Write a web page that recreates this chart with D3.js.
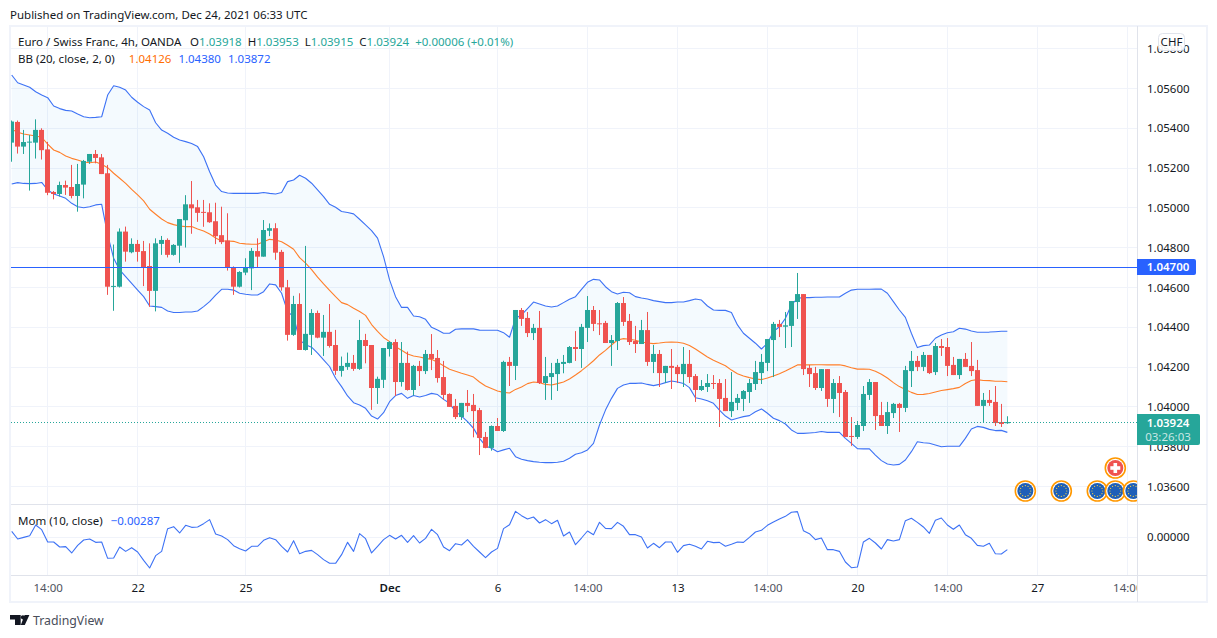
<!DOCTYPE html>
<html>
<head>
<meta charset="utf-8">
<title>EURCHF 4h</title>
<script src="https://d3js.org/d3.v7.min.js"></script>
<style>
  html, body { margin: 0; background: #fff; }
  svg { display: block; }
  text { font-family: "Noto Sans", sans-serif; font-size: 11.5px; fill: #131722; }
</style>
</head>
<body>
<div id="chart"></div>
<script>
// OHLC, one entry per 4h bar
var opens = [
1.05328,1.05432,1.05308,1.05330,1.05328,1.05392,1.05294,1.05080,1.05070,1.05115,
1.05105,1.05060,1.05117,1.05232,1.05271,1.05254,1.05174,1.04604,1.04604,1.04881,
1.04777,1.04819,1.04783,1.04708,1.04583,1.04819,1.04839,1.04764,1.04810,1.04938,
1.05018,1.05003,1.04980,1.04978,1.04933,1.04863,1.04836,1.04701,1.04604,1.04675,
1.04696,1.04783,1.04755,1.04885,1.04898,1.04779,1.04601,1.04362,1.04517,1.04286,
1.04362,1.04472,1.04348,1.04377,1.04311,1.04181,1.04201,1.04221,1.04191,1.04336,
1.04311,1.04095,1.04136,1.04291,1.04326,1.04125,1.04221,1.04085,1.04206,1.04180,
1.04266,1.04246,1.04150,1.04065,1.04005,1.03949,1.04020,1.04010,1.03984,1.03849,
1.03794,1.03904,1.03879,1.04226,1.04206,1.04487,1.04447,1.04371,1.04397,1.04120,
1.04150,1.04165,1.04216,1.04221,1.04301,1.04291,1.04397,1.04487,1.04420,1.04422,
1.04321,1.04331,1.04522,1.04432,1.04331,1.04316,1.04386,1.04226,1.04266,1.04170,
1.04206,1.04201,1.04165,1.04216,1.04155,1.04085,1.04100,1.04120,1.04120,1.04045,
1.03979,1.04020,1.04040,1.04075,1.04115,1.04170,1.04221,1.04336,1.04417,1.04403,
1.04407,1.04527,1.04567,1.04196,1.04170,1.04095,1.04190,1.04040,1.04120,1.04075,
1.03854,1.03849,1.03904,1.04060,1.04125,1.03959,1.03904,1.03969,1.04015,1.03995,
1.04180,1.04231,1.04201,1.04261,1.04175,1.04306,1.04301,1.04211,1.04160,1.04241,
1.04206,1.04185,1.04005,1.04035,1.04025,1.03924,1.03918];
var highs = [
1.05439,1.05439,1.05392,1.05366,1.05445,1.05400,1.05332,1.05085,1.05132,1.05137,
1.05216,1.05221,1.05241,1.05271,1.05291,1.05271,1.05216,1.04816,1.04897,1.04906,
1.04847,1.04839,1.04834,1.04822,1.04847,1.04859,1.04847,1.04818,1.04944,1.05064,
1.05135,1.05040,1.05040,1.05023,1.05026,1.05006,1.04973,1.04706,1.04682,1.04747,
1.04798,1.04847,1.04939,1.04922,1.04923,1.04789,1.04638,1.04558,1.04571,1.04809,
1.04491,1.04484,1.04462,1.04517,1.04387,1.04253,1.04273,1.04261,1.04437,1.04367,
1.04311,1.04152,1.04296,1.04330,1.04340,1.04326,1.04278,1.04211,1.04231,1.04286,
1.04366,1.04286,1.04231,1.04068,1.04040,1.04020,1.04085,1.04065,1.03995,1.03874,
1.03907,1.03944,1.04232,1.04251,1.04487,1.04497,1.04477,1.04417,1.04482,1.04251,
1.04221,1.04241,1.04261,1.04306,1.04381,1.04417,1.04557,1.04507,1.04487,1.04432,
1.04361,1.04527,1.04552,1.04467,1.04407,1.04437,1.04477,1.04311,1.04286,1.04206,
1.04291,1.04211,1.04301,1.04286,1.04165,1.04135,1.04165,1.04160,1.04140,1.04140,
1.04175,1.04065,1.04085,1.04140,1.04231,1.04266,1.04341,1.04427,1.04437,1.04477,
1.04532,1.04673,1.04567,1.04211,1.04201,1.04190,1.04190,1.04140,1.04155,1.04085,
1.03949,1.03929,1.04105,1.04140,1.04125,1.04025,1.04025,1.04020,1.04020,1.04206,
1.04281,1.04256,1.04276,1.04261,1.04321,1.04341,1.04346,1.04251,1.04241,1.04271,
1.04326,1.04236,1.04070,1.04085,1.04105,1.04015,1.03953];
var lows = [
1.05232,1.05273,1.05271,1.05087,1.05248,1.05243,1.05064,1.05043,1.05057,1.05065,
1.05048,1.04981,1.05048,1.05221,1.05224,1.05170,1.04563,1.04483,1.04600,1.04730,
1.04772,1.04730,1.04607,1.04503,1.04480,1.04764,1.04751,1.04760,1.04724,1.04801,
1.04870,1.04930,1.04905,1.04925,1.04818,1.04818,1.04685,1.04563,1.04600,1.04662,
1.04587,1.04702,1.04755,1.04858,1.04739,1.04584,1.04333,1.04357,1.04286,1.04283,
1.04261,1.04345,1.04256,1.04298,1.04161,1.04152,1.04186,1.04181,1.04186,1.04219,
1.03985,1.04015,1.04095,1.04253,1.04055,1.04102,1.04082,1.04057,1.04105,1.04165,
1.04185,1.04122,1.04035,1.04000,1.03939,1.03934,1.03974,1.03847,1.03758,1.03792,
1.03780,1.03879,1.03874,1.04105,1.04135,1.04407,1.04351,1.04336,1.04115,1.04035,
1.04035,1.04080,1.04169,1.04219,1.04231,1.04196,1.04326,1.04381,1.04361,1.04321,
1.04206,1.04286,1.04407,1.04311,1.04271,1.04316,1.04206,1.04170,1.04100,1.04120,
1.04090,1.04120,1.04100,1.04120,1.04025,1.04080,1.04075,1.04090,1.03899,1.03979,
1.03949,1.03984,1.03979,1.04020,1.04085,1.04115,1.04180,1.04150,1.04351,1.04296,
1.04301,1.04442,1.04160,1.04100,1.04085,1.04080,1.04000,1.03969,1.03949,1.03849,
1.03804,1.03839,1.03879,1.04035,1.03884,1.03904,1.03864,1.03944,1.03874,1.03974,
1.04100,1.04180,1.04180,1.04165,1.04160,1.04256,1.04155,1.04160,1.04140,1.04201,
1.04155,1.04005,1.03921,1.04005,1.03904,1.03899,1.03915];
var closes = [
1.05434,1.05308,1.05331,1.05333,1.05392,1.05290,1.05076,1.05070,1.05115,1.05102,
1.05060,1.05120,1.05236,1.05271,1.05251,1.05170,1.04604,1.04608,1.04881,1.04780,
1.04819,1.04779,1.04701,1.04583,1.04822,1.04839,1.04764,1.04814,1.04944,1.05018,
1.04998,1.04975,1.04977,1.04928,1.04858,1.04828,1.04701,1.04604,1.04678,1.04702,
1.04784,1.04755,1.04889,1.04898,1.04775,1.04601,1.04362,1.04517,1.04286,1.04367,
1.04472,1.04348,1.04377,1.04306,1.04181,1.04206,1.04221,1.04191,1.04336,1.04306,
1.04095,1.04141,1.04296,1.04326,1.04125,1.04221,1.04085,1.04206,1.04180,1.04266,
1.04241,1.04145,1.04060,1.04000,1.03949,1.04020,1.04005,1.03979,1.03844,1.03794,
1.03904,1.03879,1.04226,1.04206,1.04487,1.04442,1.04371,1.04397,1.04120,1.04155,
1.04170,1.04221,1.04226,1.04301,1.04291,1.04402,1.04487,1.04417,1.04417,1.04321,
1.04336,1.04522,1.04427,1.04326,1.04316,1.04386,1.04226,1.04266,1.04170,1.04206,
1.04196,1.04165,1.04216,1.04150,1.04085,1.04105,1.04120,1.04117,1.04040,1.03979,
1.04025,1.04045,1.04080,1.04120,1.04175,1.04226,1.04341,1.04417,1.04402,1.04410,
1.04532,1.04567,1.04190,1.04165,1.04095,1.04190,1.04040,1.04120,1.04070,1.03849,
1.03850,1.03909,1.04065,1.04125,1.03954,1.03904,1.03974,1.04015,1.03995,1.04185,
1.04231,1.04201,1.04261,1.04170,1.04306,1.04296,1.04206,1.04160,1.04241,1.04201,
1.04180,1.04005,1.04035,1.04020,1.03919,1.03914,1.03924];

// Bollinger bands (20, close, 2, 0)
var bbUpper = [
1.05668,1.05629,1.05618,1.05606,1.05584,1.05567,1.05554,1.05512,1.05499,1.05490,
1.05487,1.05472,1.05458,1.05453,1.05455,1.05458,1.05567,1.05614,1.05606,1.05592,
1.05556,1.05531,1.05509,1.05492,1.05428,1.05391,1.05375,1.05355,1.05341,1.05333,
1.05324,1.05308,1.05257,1.05182,1.05115,1.05082,1.05075,1.05073,1.05073,1.05073,
1.05073,1.05073,1.05077,1.05073,1.05070,1.05077,1.05132,1.05140,1.05164,1.05149,
1.05124,1.05091,1.05057,1.05018,1.05003,1.04982,1.04977,1.04970,1.04943,1.04915,
1.04886,1.04848,1.04755,1.04638,1.04554,1.04500,1.04500,1.04457,1.04453,1.04440,
1.04400,1.04386,1.04370,1.04370,1.04390,1.04392,1.04392,1.04392,1.04386,1.04385,
1.04385,1.04385,1.04373,1.04350,1.04445,1.04462,1.04494,1.04527,1.04517,1.04507,
1.04502,1.04507,1.04524,1.04541,1.04554,1.04591,1.04626,1.04641,1.04638,1.04604,
1.04579,1.04567,1.04576,1.04574,1.04554,1.04547,1.04542,1.04534,1.04529,1.04524,
1.04524,1.04527,1.04527,1.04534,1.04542,1.04537,1.04507,1.04487,1.04485,1.04485,
1.04474,1.04412,1.04370,1.04345,1.04320,1.04291,1.04320,1.04378,1.04403,1.04445,
1.04512,1.04546,1.04549,1.04549,1.04551,1.04551,1.04552,1.04552,1.04552,1.04571,
1.04587,1.04591,1.04591,1.04591,1.04592,1.04592,1.04571,1.04529,1.04487,1.04450,
1.04370,1.04298,1.04308,1.04311,1.04345,1.04361,1.04373,1.04378,1.04395,1.04391,
1.04381,1.04375,1.04375,1.04376,1.04378,1.04380,1.04380];
var bbMiddle = [
1.05395,1.05380,1.05371,1.05366,1.05361,1.05355,1.05321,1.05291,1.05279,1.05261,
1.05249,1.05241,1.05231,1.05227,1.05231,1.05219,1.05202,1.05174,1.05149,1.05123,
1.05093,1.05065,1.05035,1.04993,1.04968,1.04944,1.04926,1.04916,1.04909,1.04906,
1.04906,1.04894,1.04884,1.04869,1.04849,1.04834,1.04834,1.04832,1.04822,1.04819,
1.04817,1.04817,1.04830,1.04842,1.04839,1.04830,1.04812,1.04792,1.04750,1.04722,
1.04690,1.04652,1.04618,1.04586,1.04554,1.04524,1.04514,1.04496,1.04479,1.04460,
1.04414,1.04380,1.04349,1.04328,1.04302,1.04285,1.04266,1.04256,1.04251,1.04244,
1.04239,1.04224,1.04207,1.04189,1.04179,1.04169,1.04160,1.04150,1.04125,1.04105,
1.04093,1.04080,1.04073,1.04070,1.04088,1.04100,1.04117,1.04125,1.04122,1.04113,
1.04110,1.04117,1.04125,1.04140,1.04160,1.04182,1.04206,1.04232,1.04261,1.04284,
1.04311,1.04336,1.04343,1.04340,1.04335,1.04326,1.04321,1.04318,1.04321,1.04325,
1.04326,1.04325,1.04320,1.04309,1.04291,1.04271,1.04251,1.04234,1.04221,1.04207,
1.04185,1.04167,1.04155,1.04147,1.04140,1.04137,1.04145,1.04155,1.04167,1.04180,
1.04195,1.04211,1.04211,1.04211,1.04212,1.04212,1.04211,1.04211,1.04212,1.04206,
1.04197,1.04190,1.04190,1.04189,1.04179,1.04164,1.04145,1.04122,1.04102,1.04088,
1.04073,1.04062,1.04063,1.04067,1.04075,1.04082,1.04087,1.04092,1.04098,1.04118,
1.04133,1.04137,1.04133,1.04132,1.04129,1.04129,1.04126];
var bbLower = [
1.05120,1.05127,1.05123,1.05122,1.05123,1.05128,1.05090,1.05070,1.05060,1.05048,
1.05023,1.05006,1.05001,1.05006,1.05015,1.05018,1.04864,1.04747,1.04688,1.04655,
1.04621,1.04587,1.04554,1.04507,1.04504,1.04500,1.04482,1.04474,1.04474,1.04477,
1.04477,1.04482,1.04504,1.04529,1.04562,1.04591,1.04591,1.04587,1.04571,1.04566,
1.04562,1.04562,1.04579,1.04618,1.04613,1.04571,1.04479,1.04454,1.04337,1.04312,
1.04300,1.04270,1.04236,1.04203,1.04144,1.04102,1.04055,1.04021,1.04010,1.03993,
1.03954,1.03939,1.03971,1.04026,1.04057,1.04068,1.04043,1.04057,1.04050,1.04057,
1.04068,1.04062,1.04038,1.04018,1.03976,1.03954,1.03926,1.03892,1.03842,1.03804,
1.03792,1.03775,1.03784,1.03792,1.03750,1.03737,1.03730,1.03725,1.03722,1.03720,
1.03720,1.03722,1.03727,1.03742,1.03762,1.03770,1.03784,1.03817,1.03909,1.03984,
1.04043,1.04093,1.04110,1.04118,1.04118,1.04120,1.04113,1.04107,1.04113,1.04122,
1.04130,1.04125,1.04118,1.04097,1.04046,1.04040,1.04031,1.04018,1.03984,1.03954,
1.03934,1.03943,1.03951,1.03956,1.03976,1.03990,1.03968,1.03943,1.03931,1.03914,
1.03884,1.03867,1.03867,1.03869,1.03871,1.03876,1.03872,1.03872,1.03872,1.03842,
1.03817,1.03790,1.03789,1.03789,1.03758,1.03730,1.03713,1.03708,1.03711,1.03733,
1.03775,1.03825,1.03820,1.03817,1.03809,1.03800,1.03802,1.03802,1.03802,1.03842,
1.03889,1.03902,1.03897,1.03887,1.03881,1.03882,1.03872];

// Mom (10, close)
var momentum = [
0.00128,-0.00045,-0.00008,0.00030,0.00272,0.00166,-0.00113,-0.00113,-0.00226,-0.00219,
-0.00362,-0.00189,-0.00068,-0.00045,-0.00121,-0.00113,-0.00483,-0.00476,-0.00226,-0.00325,
-0.00242,-0.00340,-0.00529,-0.00702,-0.00423,-0.00325,0.00189,0.00234,0.00091,0.00264,
0.00219,0.00227,0.00302,0.00393,0.00068,0.00023,-0.00060,-0.00196,-0.00264,-0.00317,
-0.00211,-0.00211,-0.00076,-0.00015,-0.00060,-0.00211,-0.00340,-0.00083,-0.00378,-0.00325,
-0.00302,-0.00400,-0.00513,-0.00596,-0.00596,-0.00400,-0.00121,-0.00325,0.00076,-0.00038,
-0.00362,-0.00211,-0.00060,0.00038,-0.00045,0.00038,-0.00121,0.00030,-0.00136,-0.00030,
0.00174,0.00053,-0.00226,-0.00310,-0.00151,-0.00181,-0.00060,-0.00211,-0.00340,-0.00468,
-0.00340,-0.00257,0.00189,0.00279,0.00581,0.00483,0.00408,0.00453,0.00317,0.00393,
0.00302,0.00378,0.00023,0.00113,-0.00174,-0.00023,0.00136,0.00053,0.00332,0.00196,
0.00189,0.00332,0.00242,0.00053,0.00053,0.00000,-0.00249,-0.00143,-0.00242,-0.00113,
-0.00113,-0.00347,-0.00196,-0.00166,-0.00211,-0.00272,-0.00098,-0.00128,-0.00121,-0.00211,
-0.00166,-0.00113,-0.00121,-0.00008,0.00113,0.00151,0.00264,0.00340,0.00408,0.00468,
0.00559,0.00574,0.00143,0.00076,-0.00060,-0.00023,-0.00287,-0.00287,-0.00325,-0.00566,
-0.00695,-0.00680,-0.00113,-0.00030,-0.00136,-0.00272,-0.00060,-0.00091,-0.00060,0.00370,
0.00423,0.00332,0.00227,0.00083,0.00378,0.00430,0.00272,0.00174,0.00272,0.00053,
-0.00030,-0.00189,-0.00211,-0.00143,-0.00378,-0.00385,-0.00287];

// axis labels
var priceTicks = [1.036,1.038,1.040,1.042,1.044,1.046,1.048,1.050,1.052,1.054,1.056,1.058];
var momTicks = [0];
var timeBars = [6,21,39,63,81,96,111,126,141,156,171,186];
var timeLabels = ["14:00","22","25","Dec","6","14:00","13","14:00","20","14:00","27","14:00"];
var monthLabels = ["Dec"];
var hourLabels = ["14:00"];

// upcoming economic events, bar index they sit on
var euEventBars = [169,175,181,184,187];
var chEventBars = [184];

var hLineValue = 1.047;
var lastPrice = 1.03924;
var countdown = "03:26:03";

var width = 1217, height = 638;
var plotLeft = 11, plotRight = 1137, frameRight = 1207;
var paneTop = 27, paneBottom = 504, momTop = 505, momBottom = 575, frameBottom = 602;

var GREEN = "#26a69a", RED = "#ef5350", BLUE = "#2962ff", ORANGE = "#ff6d00";
var GRID = "#f0f3fa", BORDER = "#e0e3eb";

var x = d3.scaleLinear().domain([0, 187]).range([11.7, 1133.3]);
// 0.002 = 39.8px on the price pane
var y = d3.scaleLinear().domain([1.036, 1.056]).range([486.5, 88.5]);
var yMom = d3.scaleLinear().domain([-0.01, 0.01]).range([581.15, 492.85]);

// snap to the middle of a pixel so 1px lines stay sharp
function crisp(v) { return Math.floor(v) + 0.5; }

var svg = d3.select("#chart").append("svg").attr("width", width).attr("height", height);
var defs = svg.append("defs");
defs.append("clipPath").attr("id", "clipPrice").append("rect")
  .attr("x", plotLeft).attr("y", paneTop).attr("width", plotRight - plotLeft).attr("height", paneBottom - paneTop);
defs.append("clipPath").attr("id", "clipMom").append("rect")
  .attr("x", plotLeft).attr("y", momTop).attr("width", plotRight - plotLeft).attr("height", momBottom - momTop);
defs.append("clipPath").attr("id", "clipTime").append("rect")
  .attr("x", plotLeft).attr("y", momBottom).attr("width", plotRight - plotLeft).attr("height", frameBottom - momBottom);

svg.append("text").attr("x", 10).attr("y", 19)
  .text("Published on TradingView.com, Dec 24, 2021 06:33 UTC");

// frame
svg.append("rect").attr("x", 10).attr("y", 26).attr("width", frameRight - 10).attr("height", frameBottom - 26)
  .attr("fill", "#fff").attr("stroke", GRID).attr("stroke-width", 2);

// grid
var grid = svg.append("g").attr("fill", "none").attr("stroke", GRID);
grid.selectAll(".h").data(priceTicks).join("line").attr("class", "h")
  .attr("x1", plotLeft).attr("x2", plotRight)
  .attr("y1", function (d) { return crisp(y(d)); })
  .attr("y2", function (d) { return crisp(y(d)); });
grid.selectAll(".m").data(momTicks).join("line").attr("class", "m")
  .attr("x1", plotLeft).attr("x2", plotRight)
  .attr("y1", function (d) { return crisp(yMom(d)); })
  .attr("y2", function (d) { return crisp(yMom(d)); });
grid.selectAll(".v").data(timeBars).join("line").attr("class", "v")
  .attr("x1", function (d) { return crisp(x(d)); })
  .attr("x2", function (d) { return crisp(x(d)); })
  .attr("y1", paneTop).attr("y2", momBottom);

// price pane
var price = svg.append("g").attr("clip-path", "url(#clipPrice)");
var bars = d3.range(opens.length);

price.append("path").datum(bars)
  .attr("fill", "#2196f3").attr("fill-opacity", 0.05)
  .attr("d", d3.area().x(function (i) { return x(i); })
    .y0(function (i) { return y(bbLower[i]); })
    .y1(function (i) { return y(bbUpper[i]); }));

function bandLine(vals, color) {
  price.append("path").datum(bars)
    .attr("fill", "none").attr("stroke", color).attr("stroke-width", 1.1)
    .attr("stroke-linejoin", "round")
    .attr("d", d3.line().x(function (i) { return x(i); }).y(function (i) { return y(vals[i]); }));
}
bandLine(bbUpper, "#3d72f5");
bandLine(bbLower, "#3d72f5");
bandLine(bbMiddle, "#ff7f2a");

function barColor(i) { return closes[i] >= opens[i] ? GREEN : RED; }

price.selectAll(".wick").data(bars).join("line").attr("class", "wick")
  .attr("x1", function (i) { return crisp(x(i)); })
  .attr("x2", function (i) { return crisp(x(i)); })
  .attr("y1", function (i) { return y(highs[i]); })
  .attr("y2", function (i) { return y(lows[i]); })
  .attr("stroke", barColor);

price.selectAll(".body").data(bars).join("rect").attr("class", "body")
  .attr("x", function (i) { return Math.floor(x(i)) - 2; })
  .attr("width", 5)
  .attr("y", function (i) { return Math.min(y(opens[i]), y(closes[i])); })
  .attr("height", function (i) { return Math.max(1, Math.abs(y(opens[i]) - y(closes[i]))); })
  .attr("fill", barColor);

// horizontal level + last price
price.append("line").attr("x1", plotLeft).attr("x2", plotRight)
  .attr("y1", crisp(y(hLineValue))).attr("y2", crisp(y(hLineValue)))
  .attr("stroke", BLUE);
price.append("line").attr("x1", plotLeft).attr("x2", plotRight)
  .attr("y1", crisp(y(lastPrice))).attr("y2", crisp(y(lastPrice)))
  .attr("stroke", GREEN).attr("stroke-dasharray", "1 2");

// event markers
function eventRing(g, cx, cy) {
  g.append("circle").attr("cx", cx).attr("cy", cy).attr("r", 10).attr("fill", "#fff")
    .attr("stroke", "#ff9800").attr("stroke-width", 1.6);
}
var events = price.append("g");
euEventBars.forEach(function (b) {
  var cx = x(b), cy = 491;
  var g = events.append("g");
  eventRing(g, cx, cy);
  g.append("circle").attr("cx", cx).attr("cy", cy).attr("r", 8).attr("fill", "#1e5fb8");
  d3.range(12).forEach(function (k) {
    var a = k * Math.PI / 6;
    g.append("circle").attr("cx", cx + 5.4 * Math.cos(a)).attr("cy", cy + 5.4 * Math.sin(a))
      .attr("r", 0.6).attr("fill", "#ffd740");
  });
});
chEventBars.forEach(function (b) {
  var cx = x(b), cy = 468;
  var g = events.append("g");
  eventRing(g, cx, cy);
  g.append("circle").attr("cx", cx).attr("cy", cy).attr("r", 8).attr("fill", RED);
  g.append("rect").attr("x", cx - 5).attr("y", cy - 1.8).attr("width", 10).attr("height", 3.6).attr("fill", "#fff");
  g.append("rect").attr("x", cx - 1.8).attr("y", cy - 5).attr("width", 3.6).attr("height", 10).attr("fill", "#fff");
});

// momentum pane
svg.append("g").attr("clip-path", "url(#clipMom)").append("path").datum(bars)
  .attr("fill", "none").attr("stroke", "#3d72f5").attr("stroke-width", 1.1)
  .attr("stroke-linejoin", "round")
  .attr("d", d3.line().x(function (i) { return x(i); }).y(function (i) { return yMom(momentum[i]); }));

// borders
var borders = svg.append("g").attr("stroke", BORDER);
borders.append("line").attr("x1", plotRight + 0.5).attr("x2", plotRight + 0.5).attr("y1", paneTop - 1).attr("y2", frameBottom);
borders.append("line").attr("x1", plotLeft).attr("x2", frameRight).attr("y1", paneBottom + 0.5).attr("y2", paneBottom + 0.5);
borders.append("line").attr("x1", plotLeft).attr("x2", frameRight).attr("y1", momBottom + 0.5).attr("y2", momBottom + 0.5);

// axes
var priceAxis = d3.axisRight(y).tickValues(priceTicks).tickSize(0).tickPadding(10)
  .tickFormat(d3.format(".5f"));
svg.append("g").attr("transform", "translate(" + plotRight + ",0)").call(priceAxis)
  .call(function (g) { g.select(".domain").remove(); });

var momAxis = d3.axisRight(yMom).tickValues(momTicks).tickSize(0).tickPadding(10)
  .tickFormat(d3.format(".5f"));
svg.append("g").attr("transform", "translate(" + plotRight + ",0)").call(momAxis)
  .call(function (g) { g.select(".domain").remove(); });

var timeAxis = d3.axisBottom(x).tickValues(timeBars).tickSize(0).tickPadding(9)
  .tickFormat(function (d, k) { return timeLabels[k]; });
svg.append("g").attr("clip-path", "url(#clipTime)")
  .append("g").attr("transform", "translate(0," + momBottom + ")").call(timeAxis)
  .call(function (g) {
    g.select(".domain").remove();
    g.selectAll("text")
      .style("font-weight", function () { return monthLabels.indexOf(this.textContent) >= 0 ? "600" : null; })
      .style("fill", function () { return hourLabels.indexOf(this.textContent) >= 0 ? "#50535e" : "#131722"; });
  });
svg.selectAll(".tick text").style("font-family", '"Noto Sans", sans-serif').style("font-size", "11.5px");
svg.selectAll("g.tick line").remove();

// price tags
function tag(value, color, w, h) {
  var top = Math.floor(y(value)) - 8;
  svg.append("path").attr("fill", color)
    .attr("d", "M" + plotRight + " " + top + "h" + (w - 2) + "a2 2 0 0 1 2 2v" + (h - 4) + "a2 2 0 0 1 -2 2h" + (2 - w) + "z");
  return top;
}
var hTop = tag(hLineValue, BLUE, 59, 16);
svg.append("text").attr("x", plotRight + 31).attr("y", hTop + 12).attr("text-anchor", "middle")
  .style("fill", "#fff").style("font-weight", "600").text(hLineValue.toFixed(5));
var lTop = tag(lastPrice, GREEN, 63, 31);
svg.append("text").attr("x", plotRight + 31).attr("y", lTop + 13).attr("text-anchor", "middle")
  .style("fill", "#fff").style("font-weight", "600").text(lastPrice.toFixed(5));
svg.append("text").attr("x", plotRight + 31).attr("y", lTop + 27).attr("text-anchor", "middle")
  .style("fill", "#fff").style("fill-opacity", 0.75).text(countdown);

// currency button
svg.append("rect").attr("x", 1158.5).attr("y", 33.5).attr("width", 26).attr("height", 17).attr("rx", 4)
  .attr("fill", "#fff").attr("fill-opacity", 0.92).attr("stroke", BORDER);
svg.append("text").attr("x", 1171.5).attr("y", 46).attr("text-anchor", "middle").text("CHF");

// legend rows
function legendRow(yPos, parts) {
  var t = svg.append("text").attr("x", 18).attr("y", yPos);
  parts.forEach(function (p) {
    t.append("tspan").attr("dx", p[2] || 0).style("fill", p[1]).text(p[0]);
  });
}
legendRow(45.5, [
  ["Euro / Swiss Franc, 4h, OANDA", "#131722"],
  ["O", "#131722", 9], ["1.03918", GREEN],
  ["H", "#131722", 6], ["1.03953", GREEN],
  ["L", "#131722", 6], ["1.03915", GREEN],
  ["C", "#131722", 6], ["1.03924", GREEN],
  ["+0.00006 (+0.01%)", GREEN, 6]
]);
legendRow(62.5, [
  ["BB (20, close, 2, 0)", "#131722"],
  ["1.04126", ORANGE, 14], ["1.04380", BLUE, 7], ["1.03872", BLUE, 7]
]);
legendRow(524.5, [
  ["Mom (10, close)", "#131722"],
  ["\u22120.00287", BLUE, 8]
]);

// footer logo
svg.append("path").attr("fill", "#131722")
  .attr("d", "M10 615h10.7v10h-5.7v-5.5h-5zM24.7 615h4.7l-4.6 10h-4zM20.8 617.3a2.1 2.1 0 1 1 4.2 0a2.1 2.1 0 1 1 -4.2 0z");
svg.append("text").attr("x", 33).attr("y", 625).style("font-size", "12.3px").style("fill", "#4a4e5a").text("TradingView");
</script>
</body>
</html>
